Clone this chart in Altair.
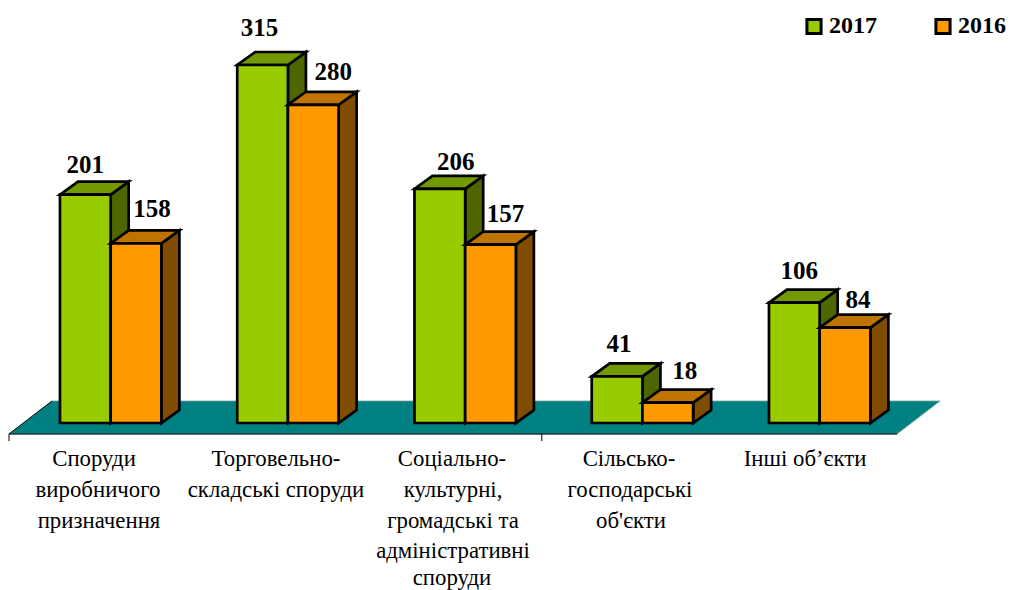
import altair as alt
import pandas as pd

# ---- data ----
series_names = ["2017", "2016"]
values_2017 = [201, 315, 206, 41, 106]
values_2016 = [158, 280, 157, 18, 84]
category_lines = [
    ["Споруди", "виробничого", "призначення"],
    ["Торговельно-", "складські споруди"],
    ["Соціально-", "культурні,", "громадські та", "адміністративні", "споруди"],
    ["Сільсько-", "господарські", "об'єкти"],
    ["Інші об’єкти"],
]

# ---- layout (pixels of the reference) ----
W, H = 998, 582
SLOT = 177.6          # px per category along the floor
BAR_STEP = 177.25 / SLOT  # bars repeat slightly tighter than the floor slots
PX_PER_UNIT = 1.1365  # px per value unit
ORIGIN_X = 9 - 8      # plot-px of the floor's front-left corner
ORIGIN_Y = 423 - 8    # plot-px of value 0
BAR_LEFT = 0.287      # slots
BAR_W = 0.2855        # slots
DX = 18 / SLOT        # bar depth, x
DY = 13 / PX_PER_UNIT # bar depth, y
FLOOR_DX = 43 / SLOT
FLOOR_FRONT = -11 / PX_PER_UNIT
FLOOR_BACK = 22 / PX_PER_UNIT
TICK_END = -18 / PX_PER_UNIT
TICK_SLOTS = [0, 3]
FONT = "Liberation Serif"
LABEL_SIZE = 25
CAT_SIZE = 22.8
STROKE = 2.7

x_scale = alt.Scale(domain=[-ORIGIN_X / SLOT, (W - ORIGIN_X) / SLOT], nice=False, zero=False)
y_scale = alt.Scale(domain=[(ORIGIN_Y - H) / PX_PER_UNIT, ORIGIN_Y / PX_PER_UNIT], nice=False, zero=False)
X = lambda f: alt.X(f, type="quantitative", scale=x_scale, axis=None)
Y = lambda f: alt.Y(f, type="quantitative", scale=y_scale, axis=None, stack=None)

COLORS = {
    "2017": dict(front="#99CC00", top="#739900", side="#4D6600"),
    "2016": dict(front="#FF9900", top="#BF7300", side="#804D00"),
}

# per-label nudges in px, following the reference's hand placement
label_nudge = {
    "2017": [(0, 30), (-3, 37), (16, 27), (2, 32), (5, 32)],
    "2016": [(16, 34), (20, 33), (15, 31), (17, 32), (13, 28)],
}

layers = []

# floor
floor = pd.DataFrame({
    "y": [FLOOR_FRONT, FLOOR_BACK],
    "x": [0, FLOOR_DX],
    "x2": [5, 5 + FLOOR_DX],
})
layers.append(
    alt.Chart(floor).mark_area(orient="horizontal", color="#008080", stroke="#7f9f9f", strokeWidth=0.8)
    .encode(y=Y("y"), x=X("x"), x2="x2")
)
edge = pd.DataFrame({"x": [FLOOR_DX, 0, 5], "y": [FLOOR_BACK, FLOOR_FRONT, FLOOR_FRONT], "o": [0, 1, 2]})
layers.append(
    alt.Chart(edge).mark_line(color="#000000", strokeWidth=1)
    .encode(x=X("x"), y=Y("y"), order="o:Q")
)
ticks = pd.DataFrame({"x": TICK_SLOTS, "y": [FLOOR_FRONT] * len(TICK_SLOTS), "y2": [TICK_END] * len(TICK_SLOTS)})
layers.append(
    alt.Chart(ticks).mark_rule(color="#000000", strokeWidth=1)
    .encode(x=X("x"), y=Y("y"), y2="y2")
)

label_rows = []
for s_i, (name, vals) in enumerate(zip(series_names, [values_2017, values_2016])):
    lefts = [i * BAR_STEP + BAR_LEFT + s_i * BAR_W for i in range(len(vals))]
    side_rows, top_rows, front_rows = [], [], []
    for i, (l, v) in enumerate(zip(lefts, vals)):
        r = l + BAR_W
        side_rows += [dict(b=i, x=r, y=v, y2=0), dict(b=i, x=r + DX, y=v + DY, y2=DY)]
        top_rows += [dict(b=i, y=v, x=l, x2=r), dict(b=i, y=v + DY, x=l + DX, x2=r + DX)]
        front_rows.append(dict(series=name, x=l, x2=r, y=v, y2=0))
        ndx, ndy = label_nudge[name][i]
        label_rows.append(dict(x=l + BAR_W / 2 + ndx / SLOT, y=v + ndy / PX_PER_UNIT, t=str(v)))
    c = COLORS[name]
    layers.append(
        alt.Chart(pd.DataFrame(side_rows)).mark_area(
            orient="vertical", color=c["side"], stroke="#000000", strokeWidth=STROKE, strokeJoin="miter")
        .encode(x=X("x"), y=Y("y"), y2="y2", detail="b:N")
    )
    layers.append(
        alt.Chart(pd.DataFrame(top_rows)).mark_area(
            orient="horizontal", color=c["top"], stroke="#000000", strokeWidth=STROKE, strokeJoin="miter")
        .encode(y=Y("y"), x=X("x"), x2="x2", detail="b:N")
    )
    layers.append(
        alt.Chart(pd.DataFrame(front_rows)).mark_rect(stroke="#000000", strokeWidth=STROKE)
        .encode(
            x=X("x"), x2="x2", y=Y("y"), y2="y2",
            fill=alt.Fill(
                "series:N",
                scale=alt.Scale(domain=series_names, range=[COLORS[n]["front"] for n in series_names]),
                legend=alt.Legend(
                    title=None, orient="none", legendX=794, legendY=6, direction="horizontal", columns=2,
                    symbolType="square", symbolSize=200, symbolStrokeColor="#000000", symbolStrokeWidth=3,
                    labelFont=FONT, labelFontSize=24, labelFontWeight="bold", labelColor="#000000",
                    labelOffset=3, columnPadding=52, labelLimit=200,
                ),
            ),
        )
    )

# value labels
layers.append(
    alt.Chart(pd.DataFrame(label_rows)).mark_text(
        font=FONT, fontSize=LABEL_SIZE, fontWeight="bold", color="#000000", align="center", baseline="middle")
    .encode(x=X("x"), y=Y("y"), text="t:N")
)

# category labels, line by line
line_centres = [
    [94, 98, 99],
    [276, 276],
    [452, 453, 453, 453, 452],
    [629, 630, 631],
    [805],
]
FIRST_LINE_PX = 459
LINE_OFFSETS = [0, 31, 61.5, 92, 119]
cat_rows = []
for i, (lines, centres) in enumerate(zip(category_lines, line_centres)):
    for j, (text, cx) in enumerate(zip(lines, centres)):
        cat_rows.append(dict(
            x=(cx - 9) / SLOT,
            y=(423 - (FIRST_LINE_PX + LINE_OFFSETS[j])) / PX_PER_UNIT,
            t=text,
        ))
layers.append(
    alt.Chart(pd.DataFrame(cat_rows)).mark_text(
        font=FONT, fontSize=CAT_SIZE, color="#000000", align="center", baseline="middle")
    .encode(x=X("x"), y=Y("y"), text="t:N")
)

chart = (
    alt.layer(*layers)
    .resolve_scale(fill="shared")
    .properties(width=W, height=H, padding=0, autosize=alt.AutoSizeParams(type="none"), background="#ffffff")
    .configure_view(stroke=None)
)
chart.save("out.html", embed_options={"renderer": "svg", "actions": False})
